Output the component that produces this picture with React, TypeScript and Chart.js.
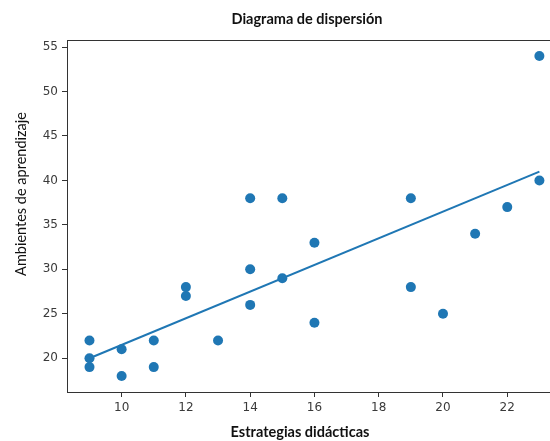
import React, { useEffect, useRef } from "react";
import { Chart, registerables } from "chart.js";

Chart.register(...registerables);

const strategyX = [9, 9, 9, 10, 10, 11, 11, 12, 12, 13, 14, 14, 14, 15, 15, 16, 16, 19, 19, 20, 21, 22, 23, 23];
const environmentY = [22, 20, 19, 21, 18, 22, 19, 28, 27, 22, 38, 30, 26, 38, 29, 33, 24, 38, 28, 25, 34, 37, 54, 40];
const fitX = [9, 23];
const fitY = [20.0, 41.0];
const xTicks = [10, 12, 14, 16, 18, 20, 22];
const yTicks = [20, 25, 30, 35, 40, 45, 50, 55];
const chartTitle = "Diagrama de dispersión";
const xLabel = "Estrategias didácticas";
const yLabel = "Ambientes de aprendizaje";

const BLUE = "#1f77b4";
const AXIS = "#333333";

const textPlugin = {
  id: "labels",
  afterDraw(chart: any) {
    const ctx = chart.ctx;
    const a = chart.chartArea;
    ctx.save();
    ctx.strokeStyle = AXIS;
    ctx.lineWidth = 1;
    ctx.beginPath();
    ctx.moveTo(a.left, a.top + 0.5);
    ctx.lineTo(a.right, a.top + 0.5);
    ctx.stroke();
    ctx.fillStyle = "#111";
    ctx.textAlign = "center";
    ctx.textBaseline = "middle";
    ctx.font = "bold 14.5px Lato, 'Open Sans', sans-serif";
    ctx.fillText(chartTitle, 307, 19);
    ctx.fillText(xLabel, 300, 432);
    ctx.translate(21, 194);
    ctx.rotate(-Math.PI / 2);
    ctx.font = "14.5px Lato, 'Open Sans', sans-serif";
    ctx.fillText(yLabel, 0, 0);
    ctx.restore();
  },
};

export default function App() {
  const ref = useRef<HTMLCanvasElement>(null);
  useEffect(() => {
    if (!ref.current) return;
    const chart = new Chart(ref.current, {
      type: "scatter",
      data: {
        datasets: [
          {
            type: "line",
            data: fitX.map((x, i) => ({ x, y: fitY[i] })),
            borderColor: BLUE,
            borderWidth: 2,
            pointRadius: 0,
            showLine: true,
            fill: false,
          } as any,
          {
            data: strategyX.map((x, i) => ({ x, y: environmentY[i] })),
            backgroundColor: BLUE,
            borderColor: BLUE,
            pointRadius: 5,
            borderWidth: 0,
          },
        ],
      },
      options: {
        responsive: false,
        animation: false,
        layout: { padding: { top: 40, left: 0, right: 0, bottom: 0 }, autoPadding: false },
        plugins: {
          legend: { display: false },
          title: { display: false },
          tooltip: { enabled: false },
        },
        scales: {
          x: {
            type: "linear",
            min: 8.3,
            max: 23.33,
            afterFit(scale: any) {
              scale.height = 49;
            },
            afterBuildTicks(scale: any) {
              scale.ticks = xTicks.map((v) => ({ value: v }));
            },
            grid: { drawOnChartArea: false, drawTicks: true, tickLength: 5, color: AXIS },
            border: { display: true, color: AXIS, width: 1 },
            ticks: {
              color: "#3a3a3a",
              padding: 4,
              font: { family: "DejaVu Sans", size: 12 },
              maxRotation: 0,
            },
          },
          y: {
            type: "linear",
            min: 16.2,
            max: 55.8,
            afterFit(scale: any) {
              scale.width = 67;
            },
            afterBuildTicks(scale: any) {
              scale.ticks = yTicks.map((v) => ({ value: v }));
            },
            grid: { drawOnChartArea: false, drawTicks: true, tickLength: 5, color: AXIS },
            border: { display: true, color: AXIS, width: 1 },
            ticks: {
              color: "#3a3a3a",
              padding: 4,
              font: { family: "DejaVu Sans", size: 12 },
            },
          },
        },
      },
      plugins: [textPlugin],
    } as any);
    return () => chart.destroy();
  }, []);
  return (
    <div style={{ position: "absolute", left: 0, top: 0, width: 550, height: 441 }}>
      <canvas ref={ref} width={550} height={441} style={{ display: "block" }} />
    </div>
  );
}
